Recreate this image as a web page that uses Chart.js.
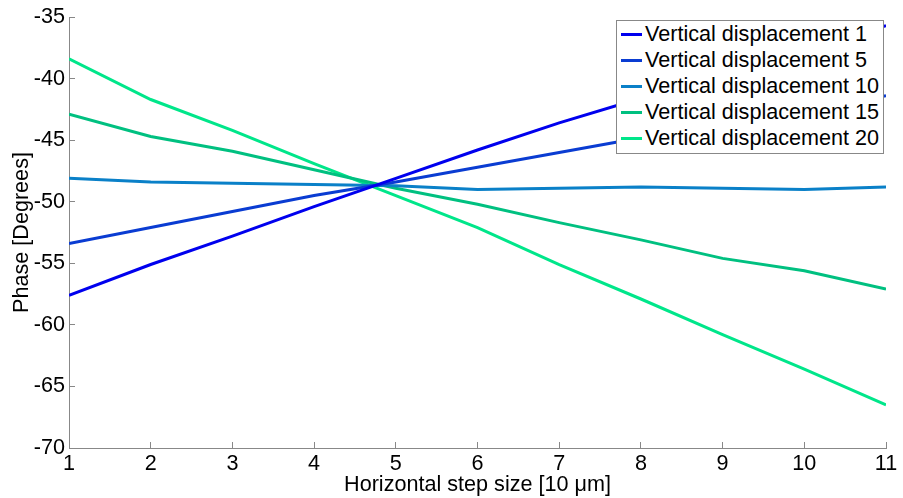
<!DOCTYPE html>
<html>
<head>
<meta charset="utf-8">
<script src="https://cdn.jsdelivr.net/npm/chart.js@4.4.0/dist/chart.umd.min.js"></script>
<style>
  body { margin: 0; background: #fff; }
  #wrap { position: relative; width: 903px; height: 498px; }
  #legend {
    position: absolute; left: 616px; top: 20px; width: 266px; height: 132px;
    border: 1px solid #888; background: #fff;
    font-family: "Liberation Sans", Arial, sans-serif; font-size: 21.6px; color: #000;
  }
  #legend .row { height: 26px; line-height: 26px; white-space: nowrap; }
  #legend .swatch { display: inline-block; width: 21px; height: 3px; margin: 0 3px 0 4px; vertical-align: middle; position: relative; top: -1px; }
</style>
</head>
<body>
<div id="wrap">
  <canvas id="c" width="903" height="498"></canvas>
  <div id="legend"></div>
</div>
<script>
// step sizes on the x axis
var steps = [1, 2, 3, 4, 5, 6, 7, 8, 9, 10, 11];

// phase values (degrees)
var disp1  = [-57.6, -55.1, -52.8, -50.4, -48.1, -45.8, -43.6, -41.6, -39.6, -37.6, -35.7];
var disp5  = [-53.4, -52.1, -50.8, -49.5, -48.4, -47.2, -46.0, -44.8, -43.7, -42.6, -41.4];
var disp10 = [-48.1, -48.4, -48.5, -48.6, -48.7, -49.0, -48.9, -48.8, -48.9, -49.0, -48.8];
var disp15 = [-42.9, -44.7, -45.9, -47.4, -48.9, -50.2, -51.7, -53.1, -54.6, -55.6, -57.1];
var disp20 = [-38.4, -41.7, -44.2, -46.9, -49.5, -52.1, -55.1, -57.9, -60.8, -63.6, -66.5];

var seriesNames = ['Vertical displacement 1', 'Vertical displacement 5', 'Vertical displacement 10',
                   'Vertical displacement 15', 'Vertical displacement 20'];
var seriesColors = ['#0000ee', '#0a3cd2', '#0a80c8', '#00c080', '#00e68a'];
var seriesValues = [disp1, disp5, disp10, disp15, disp20];

var yTicks = [-70, -65, -60, -55, -50, -45, -40, -35];

function toPoints(vals) {
    return vals.map(function (v, i) { return { x: steps[i], y: v }; });
}

var datasets = seriesValues.map(function (vals, i) {
    return {
        label: seriesNames[i],
        data: toPoints(vals),
        borderColor: seriesColors[i],
        backgroundColor: seriesColors[i],
        borderWidth: 3,
        pointRadius: 0,
        tension: 0,
        fill: false
    };
});

var font = { family: '"Liberation Sans", Arial, sans-serif', size: 21.6 };

var chart = new Chart(document.getElementById('c'), {
    type: 'line',
    data: { datasets: datasets },
    options: {
        responsive: false,
        animation: false,
        devicePixelRatio: 1,
        layout: { padding: { top: 17, right: 17, left: 0, bottom: 0 } },
        plugins: { legend: { display: false }, tooltip: { enabled: false } },
        scales: {
            x: {
                type: 'linear',
                min: 1, max: 11,
                ticks: { stepSize: 1, font: font, color: '#000', padding: 9, maxRotation: 0 },
                grid: { drawOnChartArea: false, tickLength: -6, color: '#888' },
                border: { color: '#888', width: 1 },
                title: { display: true, text: 'Horizontal step size [10 \u03bcm]', font: font, color: '#000', padding: { top: 0, bottom: 0 } },
                afterFit: function (s) { s.height = 50; s.paddingLeft = 0; s.paddingRight = 0; }
            },
            y: {
                min: -70, max: -35,
                afterBuildTicks: function (s) { s.ticks = yTicks.map(function (v) { return { value: v }; }); },
                ticks: { font: font, color: '#000', padding: 10 },
                grid: { drawOnChartArea: false, tickLength: -6, color: '#888' },
                border: { color: '#888', width: 1 },
                title: { display: true, text: 'Phase [Degrees]', font: font, color: '#000', padding: { top: 9, bottom: 0 } },
                afterFit: function (s) { s.width = 69; s.paddingTop = 0; s.paddingBottom = 0; }
            }
        }
    }
});

// legend as html
var legend = document.getElementById('legend');
seriesNames.forEach(function (name, i) {
    var row = document.createElement('div');
    row.className = 'row';
    row.innerHTML = '<span class="swatch" style="background:' + seriesColors[i] + '"></span>' + name;
    legend.appendChild(row);
});
</script>
</body>
</html>
